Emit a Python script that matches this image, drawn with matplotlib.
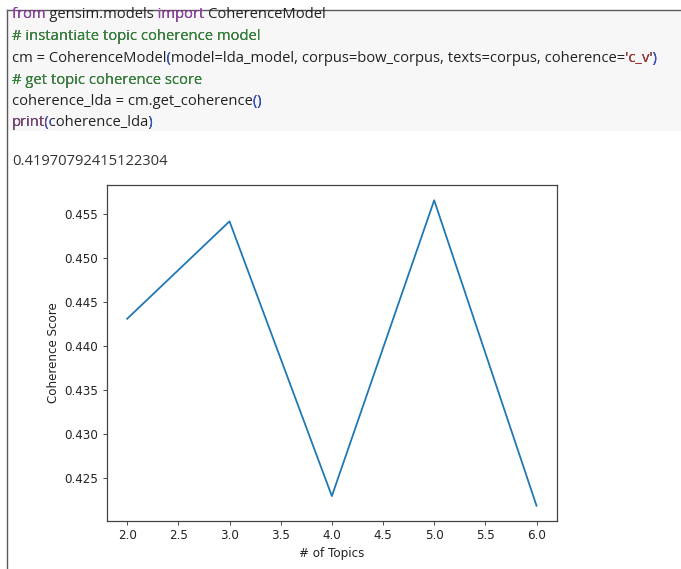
import matplotlib
matplotlib.use('Agg')
import matplotlib.pyplot as plt
from matplotlib.patches import Rectangle
from matplotlib.lines import Line2D
from matplotlib.transforms import Bbox

W, H = 681, 569

# ---- data ----
topics = [2, 3, 4, 5, 6]
coherence = [0.4431, 0.4542, 0.4229, 0.4566, 0.4218]
printed_score = '0.41970792415122304'

# code cell, split into coloured pieces
code_lines = [
    [('from', 'kw'), (' gensim.models ', None), ('import', 'kw'), (' CoherenceModel', None)],
    [('# instantiate topic coherence model', 'com')],
    [('cm = CoherenceModel', None), ('(', 'par'),
     ('model=lda_model, corpus=bow_corpus, texts=corpus, coherence=', None),
     ("'c_v'", 'str'), (')', 'par')],
    [('# get topic coherence score', 'com')],
    [('coherence_lda = cm.get_coherence', None), ('()', 'par')],
    [('print', 'fn'), ('(', 'par'), ('coherence_lda', None), (')', 'par')],
]
colors = {None: '#222222', 'kw': '#9a3fb0', 'com': '#2f8a36', 'par': '#2f4fd8',
          'str': '#b0302a', 'fn': '#7b3f7a'}

fig = plt.figure(figsize=(W / 100, H / 100), dpi=100)
fig.patch.set_facecolor('white')
renderer = fig.canvas.get_renderer()


def fx(x):
    return x / W


def fy(y):
    return 1 - y / H


def text_x1(s, x, y, **kw):
    if s == '':
        return 0
    t = fig.text(fx(x), fy(y), s, **kw)
    e = t.get_window_extent(renderer).x1
    t.remove()
    return e


# cell background and borders
fig.add_artist(Rectangle((fx(7), fy(131)), fx(W) - fx(7), fy(10) - fy(131),
                         transform=fig.transFigure, facecolor='#f7f7f7', edgecolor='none'))
fig.add_artist(Line2D([fx(7), fx(W)], [fy(10), fy(10)], transform=fig.transFigure,
                      color='#5a5a5a', lw=1.0))
fig.add_artist(Line2D([fx(7), fx(7)], [fy(10), fy(H)], transform=fig.transFigure,
                      color='#5a5a5a', lw=1.0))

# fit code font size to the width of the long line (648 px)
code_font = 'Open Sans'
fs = 11
full3 = ''.join(p for p, c in code_lines[2])
t = fig.text(fx(12), fy(60), full3, fontsize=fs, family=code_font)
bb = t.get_window_extent(renderer)
t.remove()
fs = fs * 648 / bb.width

baselines = [18, 40, 62, 83.5, 105, 126.5]
x0 = 12
for parts, yb in zip(code_lines, baselines):
    full = ''.join(p for p, c in parts)
    kw = dict(fontsize=fs, family=code_font, va='baseline', ha='left')
    fig.text(fx(x0), fy(yb), full, color=colors[None], **kw)
    prefix = ''
    for s, c in parts:
        left = text_x1(prefix, x0, yb, **kw)
        prefix += s
        if c is None:
            continue
        right = text_x1(prefix, x0, yb, **kw)
        t = fig.text(fx(x0), fy(yb), full, color=colors[c], **kw)
        t.set_clip_box(Bbox.from_extents(left + 0.5, 0, right + 1, H))

# printed output
fig.text(fx(12), fy(165), printed_score, fontsize=fs * 1.0, family=code_font,
         va='baseline', ha='left', color='#333333')

# ---- the plot ----
sc = 0.86
plt.rcParams.update({
    'font.size': 10 * sc,
    'xtick.major.size': 3.5 * sc,
    'ytick.major.size': 3.5 * sc,
    'xtick.major.width': 0.8 * sc,
    'ytick.major.width': 0.8 * sc,
    'xtick.major.pad': 3.5 * sc,
    'ytick.major.pad': 3.5 * sc,
    'axes.labelpad': 4 * sc,
    'axes.linewidth': 0.9,
})
ax = fig.add_axes([fx(106.7), fy(521), fx(557) - fx(106.7), fy(185) - fy(521)])
ax.plot(topics, coherence, color='#1f77b4', lw=1.5 * sc)
ax.set_xlabel('# of Topics', fontsize=10 * sc, color='#222222')
ax.set_ylabel('Coherence Score', fontsize=10 * sc, color='#222222')
ax.tick_params(labelsize=10 * sc, colors='#444444', labelcolor='#222222')
for sp in ax.spines.values():
    sp.set_color('#444444')

fig.savefig('out.png', dpi=100)
